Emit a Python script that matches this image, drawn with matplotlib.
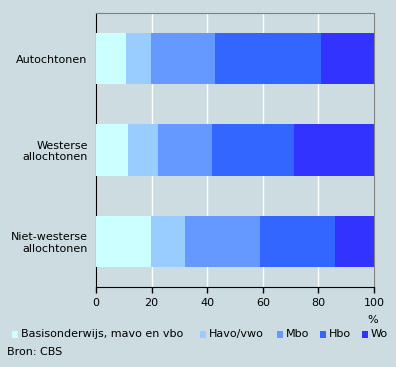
import matplotlib
matplotlib.use("Agg")
import matplotlib.pyplot as plt
from matplotlib.patches import Rectangle

groups = ["Autochtonen", "Westerse\nallochtonen", "Niet-westerse\nallochtonen"]
levels = ["Basisonderwijs, mavo en vbo", "Havo/vwo", "Mbo", "Hbo", "Wo"]
basis = [10.8, 11.5, 19.8]
havo = [9.0, 10.8, 12.2]
mbo = [23.0, 19.4, 27.0]
hbo = [38.1, 29.5, 27.0]
wo = [19.1, 28.8, 14.0]
series = [basis, havo, mbo, hbo, wo]
colors = ["#CCFFFF", "#99CCFF", "#6699FF", "#3366FF", "#3333FF"]
xticks = [0, 20, 40, 60, 80, 100]

bg = "#CCDCE1"
plt.rcParams['font.family'] = ['DejaVu Sans']
fig = plt.figure(figsize=(3.96, 3.67), dpi=100, facecolor=bg)
ax = fig.add_axes([96/396, 1-287/367, (374-96)/396, (287-13)/367])
ax.set_facecolor(bg)

ypos = list(range(len(groups)))
left = [0]*len(groups)
for vals, col, lab in zip(series, colors, levels):
    ax.barh(ypos, vals, left=left, height=0.56, color=col, label=lab, zorder=3, linewidth=0)
    left = [l+v for l, v in zip(left, vals)]

ax.set_xlim(0, 100)
ax.set_ylim(len(groups)-0.5, -0.5)
ax.set_yticks(ypos)
ax.set_yticklabels(groups, fontsize=8, ha='right', multialignment='right', linespacing=1.15)
ax.tick_params(axis='y', length=0, pad=6)
ax.set_xticks(xticks)
ax.set_xticklabels([str(t) for t in xticks], fontsize=8)
ax.tick_params(axis='x', length=4, width=1, color='black', pad=4, direction='out')
ax.grid(axis='x', color='white', linewidth=1, zorder=1)
for s in ['top', 'right']:
    ax.spines[s].set_color('#808080')
for s in ['left', 'bottom']:
    ax.spines[s].set_color('black')

fig.text(373/396, 1-320/367, "%", fontsize=8, ha='center', va='center')

# legend
lx_sq = [12, 200, 277, 320, 362]
ly = 1-334/367
for x, col, lab in zip(lx_sq, colors, levels):
    fig.patches.append(Rectangle((x/396, ly-3.5/367), 6/396, 7/367, transform=fig.transFigure,
                                 facecolor=col, edgecolor='none'))
    fig.text((x+9)/396, ly, lab, fontsize=8, ha='left', va='center')

fig.text(7/396, 1-352/367, "Bron: CBS", fontsize=8, ha='left', va='center')

fig.savefig("out.png", dpi=100, facecolor=bg)
